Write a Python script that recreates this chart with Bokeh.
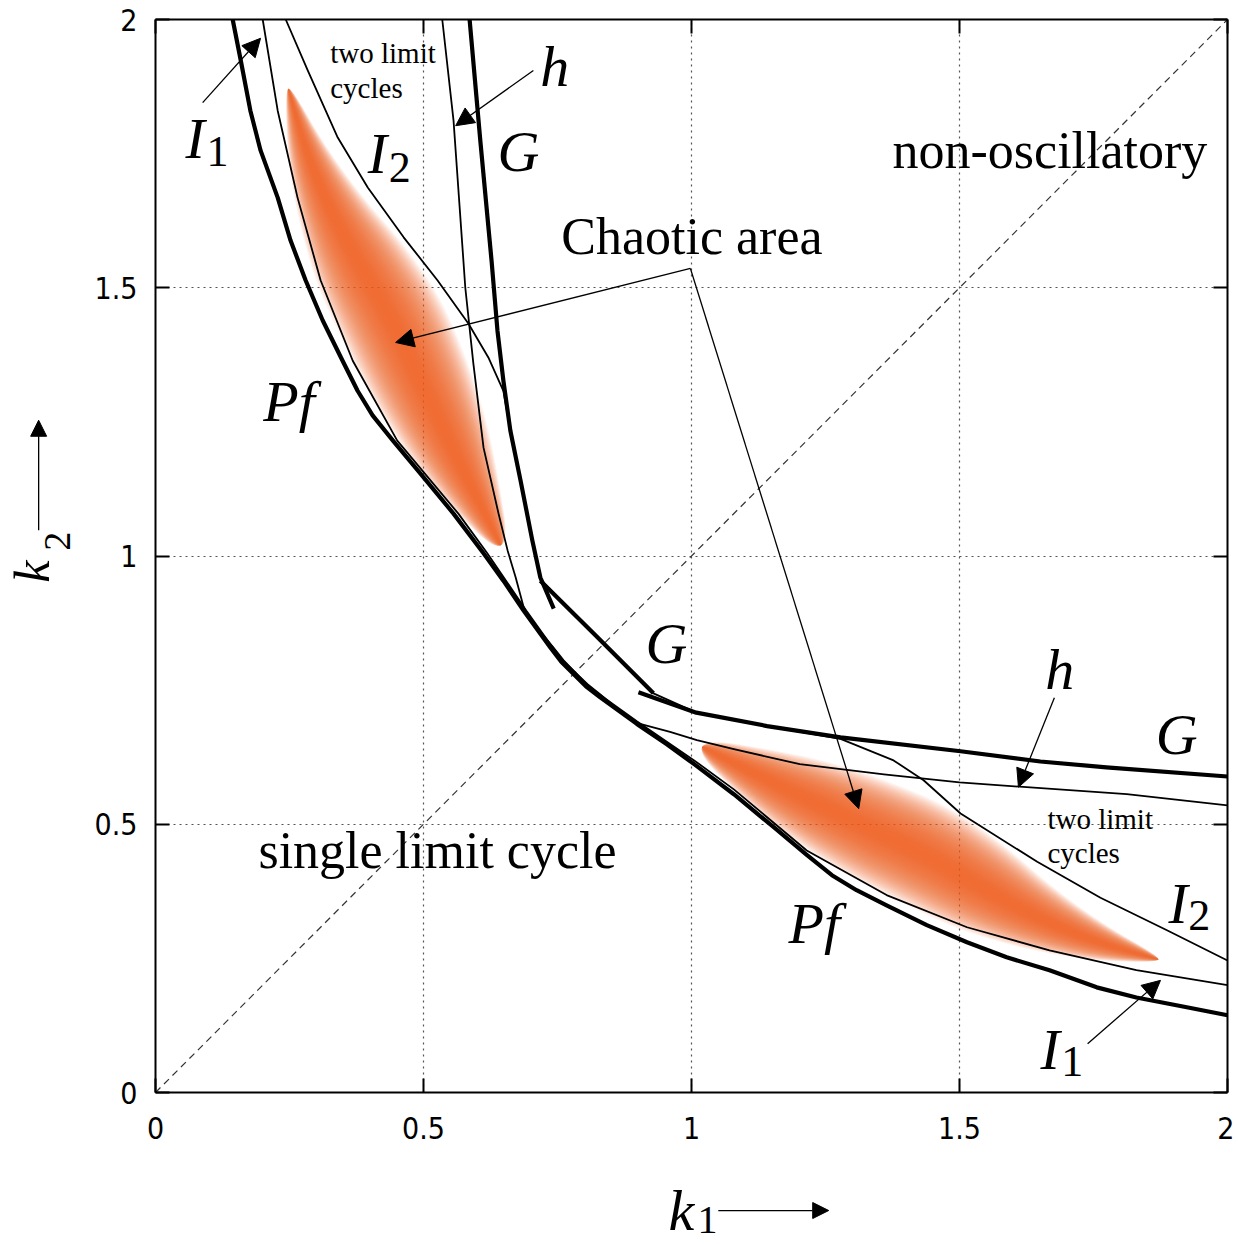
import numpy as np
from bokeh.plotting import figure
from bokeh.models import Label, Arrow, NormalHead, Range1d, FixedTicker, LinearAxis, Grid
from bokeh.embed import file_html
from bokeh.resources import INLINE

# ---------------- data (k1, k2) ----------------
pf_k1 = [0.144, 0.159, 0.177, 0.196, 0.228, 0.252, 0.280, 0.312, 0.349, 0.377, 0.405, 0.443, 0.494, 0.556, 0.612, 0.649, 0.687, 0.737, 0.757, 0.780,
         0.803, 0.829, 0.898, 0.954, 1.005, 1.079, 1.154, 1.215, 1.262, 1.308, 1.364, 1.439, 1.514, 1.588, 1.668, 1.756, 1.830, 1.924, 2.0]
pf_k2 = [2.0, 1.924, 1.830, 1.756, 1.668, 1.588, 1.514, 1.439, 1.364, 1.308, 1.262, 1.215, 1.154, 1.079, 1.005, 0.954, 0.898, 0.829, 0.803, 0.780,
         0.757, 0.737, 0.687, 0.649, 0.612, 0.556, 0.494, 0.443, 0.405, 0.377, 0.349, 0.312, 0.280, 0.252, 0.228, 0.196, 0.177, 0.159, 0.144]

i1_k1 = [0.200, 0.228, 0.265, 0.308, 0.368, 0.451, 0.565, 0.619, 0.692, 0.740, 0.760, 0.783,
         0.805, 0.831, 0.898, 1.005, 1.079, 1.215, 1.364, 1.514, 1.668, 1.830, 2.0]
i1_k2 = [2.0, 1.830, 1.668, 1.514, 1.364, 1.215, 1.079, 1.005, 0.898, 0.831, 0.805, 0.783,
         0.760, 0.740, 0.692, 0.619, 0.565, 0.451, 0.368, 0.308, 0.265, 0.228, 0.200]

i2_k1 = [0.243, 0.284, 0.340, 0.396, 0.463, 0.526, 0.584, 0.621, 0.649, 0.662, 0.681, 0.703, 0.718, 0.825, 0.929, 1.009, 1.141, 1.278, 1.377, 1.433, 1.502, 1.645, 1.763, 1.888, 2.0]
i2_k2 = [2.0, 1.905, 1.780, 1.687, 1.594, 1.514, 1.433, 1.370, 1.308, 1.234, 1.141, 1.029, 0.956, 0.848, 0.744, 0.708, 0.683, 0.659, 0.619, 0.582, 0.520, 0.430, 0.363, 0.302, 0.246]

h_k1 = [0.535, 0.556, 0.578, 0.593, 0.612, 0.640, 0.657, 0.672, 0.687, 0.700, 0.741, 0.761, 0.783,
        0.806, 0.831, 0.880, 0.904, 0.960, 1.010, 1.079, 1.202, 1.359, 1.500, 1.812, 2.0]
h_k2 = [2.0, 1.812, 1.500, 1.359, 1.202, 1.079, 1.010, 0.960, 0.904, 0.880, 0.831, 0.806, 0.783,
        0.761, 0.741, 0.700, 0.687, 0.672, 0.657, 0.640, 0.612, 0.593, 0.578, 0.556, 0.535]

g_up_k1 = [0.586, 0.606, 0.627, 0.638, 0.649, 0.662, 0.681, 0.703, 0.718, 0.743]
g_up_k2 = [2.0, 1.774, 1.550, 1.420, 1.327, 1.234, 1.141, 1.029, 0.960, 0.902]
g_mid_k1 = [0.718, 0.825, 0.929]
g_mid_k2 = [0.954, 0.848, 0.744]
g_lo_k1 = [0.901, 0.935, 1.009, 1.141, 1.278, 1.502, 1.651, 1.774, 2.0]
g_lo_k2 = [0.746, 0.734, 0.708, 0.683, 0.662, 0.636, 0.617, 0.606, 0.589]

diag_k1 = [0.0, 2.0]
diag_k2 = [0.0, 2.0]

# chaotic areas: spine points and half widths
chaos1_k1 = [0.248, 0.280, 0.326, 0.382, 0.442, 0.494, 0.547, 0.597, 0.644]
chaos1_k2 = [1.871, 1.756, 1.644, 1.541, 1.439, 1.327, 1.215, 1.113, 1.020]
chaos1_hw = [0.006, 0.036, 0.064, 0.090, 0.100, 0.096, 0.080, 0.050, 0.016]
chaos2_k1 = [1.871, 1.756, 1.644, 1.541, 1.439, 1.327, 1.215, 1.113, 1.020]
chaos2_k2 = [0.248, 0.280, 0.326, 0.382, 0.442, 0.494, 0.547, 0.597, 0.644]
chaos2_hw = [0.006, 0.036, 0.064, 0.090, 0.100, 0.096, 0.080, 0.050, 0.016]

ticks = [0, 0.5, 1, 1.5, 2]
tick_labels = {0: "0", 0.5: "0.5", 1: "1", 1.5: "1.5", 2: "2"}
blank_labels = {0: "", 0.5: "", 1: "", 1.5: "", 2: ""}

SERIF = "Liberation Serif"
TICKFONT = "'Liberation Sans Narrow', 'DejaVu Sans Condensed', 'Liberation Sans', sans-serif"

# canvas geometry: the k-box [0,2]x[0,2] sits at px 155..1227 horizontally, 19..1092 vertically
W, H = 1234, 1244
SX, SY = 536.0, 536.5
X0, Y0 = 155, 1092
XL, XR = -X0 / SX, (W - X0) / SX
YB, YT = (Y0 - H) / SY, Y0 / SY
p = figure(width=W, height=H, x_range=Range1d(XL, XR), y_range=Range1d(YB, YT),
           output_backend="svg", toolbar_location=None,
           min_border=0, min_border_left=0, min_border_right=0, min_border_top=0, min_border_bottom=0,
           x_axis_type=None, y_axis_type=None)
p.background_fill_color = "white"
p.border_fill_color = "white"
p.outline_line_color = None

def mk_axis(loc, show_labels, standoff=18):
    ax = LinearAxis(ticker=FixedTicker(ticks=ticks), fixed_location=loc, bounds=(0, 2))
    ax.major_tick_in = 14
    ax.major_tick_out = 0
    ax.minor_tick_in = 0
    ax.minor_tick_out = 0
    ax.major_tick_line_width = 2
    ax.axis_line_color = "black"
    ax.axis_line_width = 2
    if show_labels:
        ax.major_label_overrides = tick_labels
        ax.major_label_text_font = TICKFONT
        ax.major_label_text_font_size = "30px"
        ax.major_label_text_color = "black"
        ax.major_label_standoff = standoff
    else:
        ax.major_label_overrides = blank_labels
        ax.major_label_standoff = 0
    return ax

grid_props = Grid.properties()
for dim in (0, 1):
    g = Grid(dimension=dim, ticker=FixedTicker(ticks=[0.5, 1, 1.5]), bounds=(0, 2))
    if "cross_bounds" in grid_props:
        g.cross_bounds = (0, 2)
    g.grid_line_color = "#555555"
    g.grid_line_dash = "2 4"
    g.grid_line_width = 1.2
    p.add_layout(g)

# white margins outside the k-box (hide any grid extension)
p.quad(left=[XL, XL, 2.0, XL], right=[0.0, XR, XR, XR], bottom=[YB, YB, YB, 2.0], top=[YT, 0.0, YT, YT],
       fill_color="white", line_color=None)

# ---------- chaotic shading: nested translucent patches ----------
def chaikin(xs, ys, it=3):
    pts = np.column_stack([xs, ys])
    for _ in range(it):
        q = 0.75 * pts + 0.25 * np.roll(pts, -1, axis=0)
        r = 0.25 * pts + 0.75 * np.roll(pts, -1, axis=0)
        pts = np.empty((2 * len(q), 2))
        pts[0::2] = q
        pts[1::2] = r
    return list(pts[:, 0]), list(pts[:, 1])

def blob(sx, sy, hw, n=34):
    sx, sy, hw = np.asarray(sx), np.asarray(sy), np.asarray(hw)
    dx, dy = np.gradient(sx), np.gradient(sy)
    L = np.hypot(dx, dy)
    nx, ny = -dy / L, dx / L
    xs, ys = [], []
    for k in range(n):
        s = (1.0 - k / n) ** 0.85
        lx, ly = sx + s * hw * nx, sy + s * hw * ny
        rx, ry = sx - s * hw * nx, sy - s * hw * ny
        px = np.concatenate([lx, rx[::-1]])
        py = np.concatenate([ly, ry[::-1]])
        cx, cy = chaikin(px, py, 4)
        xs.append(cx)
        ys.append(cy)
    return xs, ys

for sx, sy, hw in ((chaos1_k1, chaos1_k2, chaos1_hw), (chaos2_k1, chaos2_k2, chaos2_hw)):
    bx, by = blob(sx, sy, hw)
    p.patches(bx, by, fill_color="#f0621a", fill_alpha=0.064, line_color=None)

# diagonal
p.line(diag_k1, diag_k2, line_color="#333333", line_width=1.2, line_dash="7 5")

THICK, THIN = 4.2, 1.8
p.line(i2_k1, i2_k2, line_color="black", line_width=THIN, line_join="round")
p.line(h_k1, h_k2, line_color="black", line_width=THIN, line_join="round")
p.line(i1_k1, i1_k2, line_color="black", line_width=THIN, line_join="round")
p.line(pf_k1, pf_k2, line_color="black", line_width=THICK, line_join="round")
p.line(g_up_k1, g_up_k2, line_color="black", line_width=THICK, line_join="round")
p.line(g_mid_k1, g_mid_k2, line_color="black", line_width=THICK, line_join="round")
p.line(g_lo_k1, g_lo_k2, line_color="black", line_width=THICK, line_join="round")

# axes (drawn at the k-box edges)
p.add_layout(mk_axis(0, True, 24), "below")
p.add_layout(mk_axis(0, True, 18), "left")
p.add_layout(mk_axis(2, False), "above")
p.add_layout(mk_axis(2, False), "right")

# ---------- arrows ----------
def arrow(x0, y0, x1, y1, size=18):
    p.add_layout(Arrow(x_start=x0, y_start=y0, x_end=x1, y_end=y1, line_width=1.3, line_color="black",
                       end=NormalHead(size=size, fill_color="black", fill_alpha=1.0,
                                      line_color="black", line_width=1)))

arrow(0.998, 1.536, 0.448, 1.398)
arrow(0.998, 1.536, 1.312, 0.529)
arrow(0.088, 1.845, 0.196, 1.965)
arrow(0.705, 1.905, 0.560, 1.802)
arrow(1.677, 0.736, 1.610, 0.569)
arrow(1.739, 0.091, 1.875, 0.209)
arrow(1.050, -0.220, 1.256, -0.220, 16)
arrow(-0.218, 1.048, -0.218, 1.253, 16)

# ---------- labels (x, y = left end of the text baseline) ----------
def lab(x, y, t, size, italic=False, angle=0.0):
    # compensate the renderer's baseline offset (about a third of the font size)
    if angle == 0.0:
        y = y + 0.33 * size / SY
    else:
        x = x - 0.33 * size / SX
    p.add_layout(Label(x=x, y=y, text=t, text_font=SERIF, text_font_size=f"{size}px",
                       text_font_style="italic" if italic else "normal", text_color="black",
                       text_baseline="alphabetic", text_align="left", angle=angle))

lab(0.757, 1.564, "Chaotic area", 52)
lab(1.375, 1.724, "non-oscillatory", 52)
lab(0.192, 0.419, "single limit cycle", 52)
lab(0.326, 1.920, "two limit", 29)
lab(0.326, 1.855, "cycles", 29)
lab(1.664, 0.492, "two limit", 29)
lab(1.664, 0.429, "cycles", 29)

BIG, SUB = 58, 44
lab(0.056, 1.743, "I", BIG, True); lab(0.095, 1.726, "1", SUB)
lab(0.396, 1.715, "I", BIG, True); lab(0.435, 1.698, "2", SUB)
lab(0.718, 1.877, "h", BIG, True)
lab(0.638, 1.719, "G", BIG, True)
lab(0.201, 1.253, "Pf", BIG, True)
lab(0.914, 0.801, "G", BIG, True)
lab(1.660, 0.753, "h", BIG, True)
lab(1.866, 0.632, "G", BIG, True)
lab(1.890, 0.317, "I", BIG, True); lab(1.927, 0.302, "2", SUB)
lab(1.181, 0.280, "Pf", BIG, True)
lab(1.651, 0.045, "I", BIG, True); lab(1.690, 0.030, "1", SUB)

lab(0.957, -0.256, "k", BIG, True); lab(1.011, -0.262, "1", 40)
lab(-0.200, 0.950, "k", 50, True, angle=np.pi / 2); lab(-0.160, 1.010, "2", 38, angle=np.pi / 2)

open("out.html", "w").write(file_html(p, INLINE))
